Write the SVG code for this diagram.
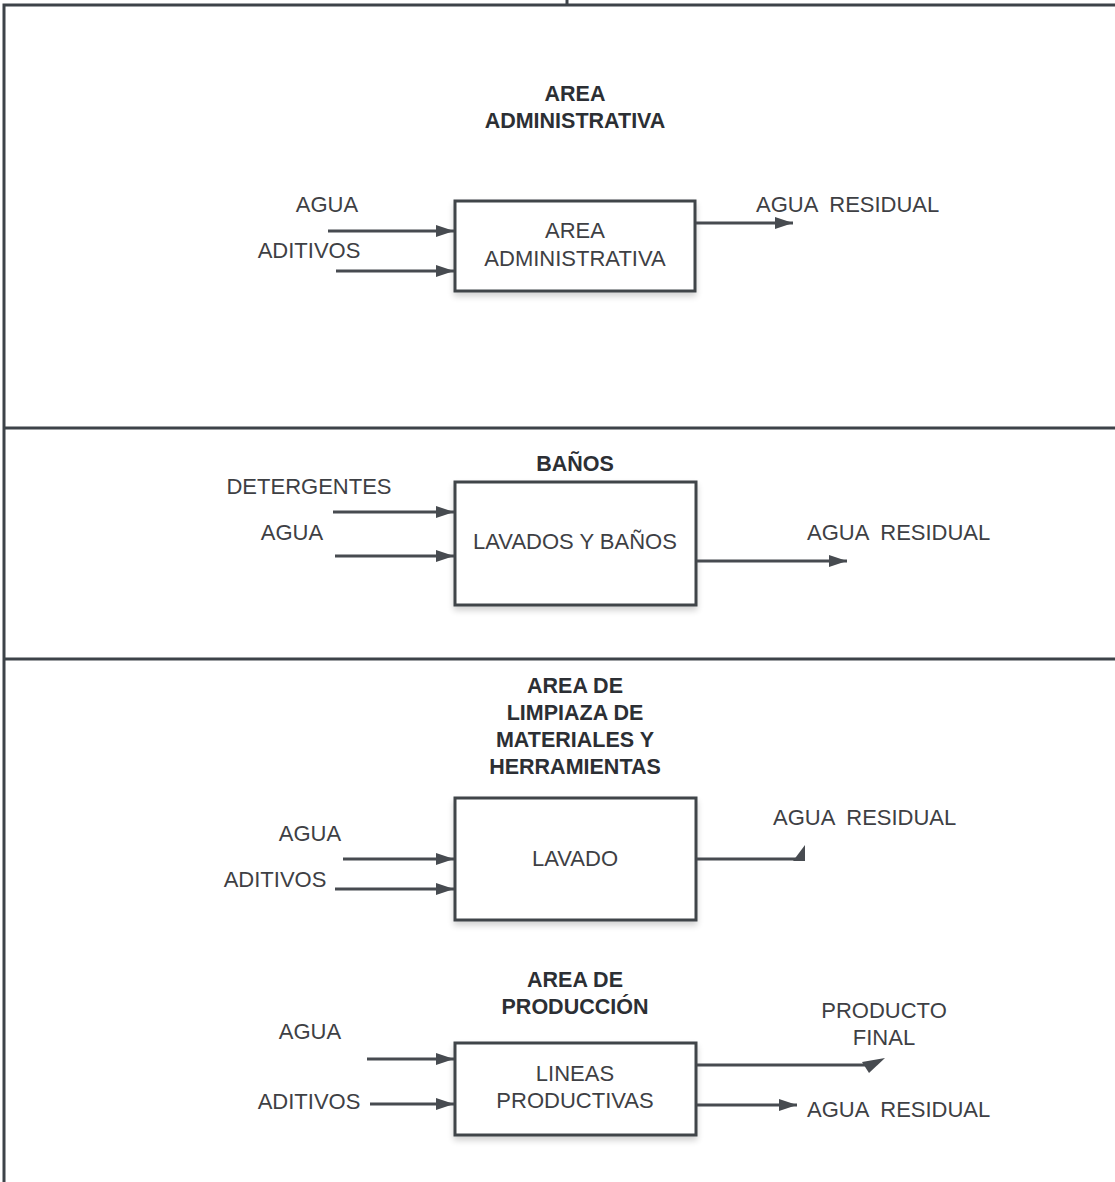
<svg xmlns="http://www.w3.org/2000/svg" width="1115" height="1182" viewBox="0 0 1115 1182">
  <defs>
    <marker id="arrow" viewBox="0 0 18 12" refX="18" refY="6" markerWidth="18" markerHeight="12" markerUnits="userSpaceOnUse" orient="auto">
      <path d="M0,0 L18,6 L0,12 Z" fill="#474b50"/>
    </marker>
    <filter id="shadow" x="-10%" y="-10%" width="125%" height="130%">
      <feGaussianBlur in="SourceAlpha" stdDeviation="3"/>
      <feOffset dx="0" dy="4" result="b"/>
      <feComponentTransfer><feFuncA type="linear" slope="0.18"/></feComponentTransfer>
      <feMerge><feMergeNode/><feMergeNode in="SourceGraphic"/></feMerge>
    </filter>
  </defs>
  <style>
    .frame { stroke: #3d4349; stroke-width: 3; fill: none; }
    .box { fill: #ffffff; stroke: #3f4449; stroke-width: 3; filter: url(#shadow); }
    .flow { stroke: #474b50; stroke-width: 3; fill: none; }
    .head { fill: #474b50; }
    .lbl { font-family: "Liberation Sans", Arial, sans-serif; font-size: 22px; fill: #3e4044; }
    .ttl { font-family: "Liberation Sans", Arial, sans-serif; font-size: 21.5px; font-weight: bold; fill: #2c2f34; text-anchor: middle; }
    .mid { text-anchor: middle; }
    .ws { word-spacing: 6px; }
  </style>
  <rect width="1115" height="1182" fill="#ffffff"/>

  <!-- sheet frame and section dividers -->
  <g id="frame">
    <path class="frame" d="M4,1182 V5 H1115"/>
    <line class="frame" x1="567" y1="0" x2="567" y2="5" stroke-width="2"/>
    <line class="frame" x1="4" y1="428" x2="1115" y2="428" stroke-width="4"/>
    <line class="frame" x1="4" y1="659" x2="1115" y2="659"/>
  </g>

  <!-- section titles -->
  <g id="titles">
    <text class="ttl" x="575" y="101">AREA</text>
    <text class="ttl" x="575" y="128">ADMINISTRATIVA</text>
    <text class="ttl" x="575" y="471">BAÑOS</text>
    <text class="ttl" x="575" y="693">AREA DE</text>
    <text class="ttl" x="575" y="720">LIMPIAZA DE</text>
    <text class="ttl" x="575" y="747">MATERIALES Y</text>
    <text class="ttl" x="575" y="774">HERRAMIENTAS</text>
    <text class="ttl" x="575" y="987">AREA DE</text>
    <text class="ttl" x="575" y="1014">PRODUCCIÓN</text>
  </g>

  <!-- process boxes -->
  <g id="node-administrativa">
    <rect class="box" x="455" y="201" width="240" height="90"/>
    <text class="lbl mid" x="575" y="238">AREA</text>
    <text class="lbl mid" x="575" y="266">ADMINISTRATIVA</text>
  </g>
  <g id="node-banos">
    <rect class="box" x="455" y="482" width="241" height="123"/>
    <text class="lbl mid" x="575" y="549">LAVADOS Y BAÑOS</text>
  </g>
  <g id="node-lavado">
    <rect class="box" x="455" y="798" width="241" height="122"/>
    <text class="lbl mid" x="575" y="866">LAVADO</text>
  </g>
  <g id="node-lineas">
    <rect class="box" x="455" y="1043" width="241" height="92"/>
    <text class="lbl mid" x="575" y="1081">LINEAS</text>
    <text class="lbl mid" x="575" y="1108">PRODUCTIVAS</text>
  </g>

  <!-- flows in and out of each box -->
  <g id="connectors">
    <line class="flow" x1="328" y1="231" x2="454" y2="231" marker-end="url(#arrow)"/>
    <line class="flow" x1="336" y1="271" x2="454" y2="271" marker-end="url(#arrow)"/>
    <line class="flow" x1="696" y1="223" x2="793" y2="223" marker-end="url(#arrow)"/>

    <line class="flow" x1="333" y1="512" x2="454" y2="512" marker-end="url(#arrow)"/>
    <line class="flow" x1="335" y1="556" x2="454" y2="556" marker-end="url(#arrow)"/>
    <line class="flow" x1="697" y1="561" x2="847" y2="561" marker-end="url(#arrow)"/>

    <line class="flow" x1="343" y1="859" x2="454" y2="859" marker-end="url(#arrow)"/>
    <line class="flow" x1="335" y1="889" x2="454" y2="889" marker-end="url(#arrow)"/>
    <line class="flow" x1="697" y1="859" x2="800" y2="859"/>
    <polygon class="head" points="793,861 805,845 805,861"/>

    <line class="flow" x1="367" y1="1059" x2="454" y2="1059" marker-end="url(#arrow)"/>
    <line class="flow" x1="370" y1="1104" x2="454" y2="1104" marker-end="url(#arrow)"/>
    <line class="flow" x1="697" y1="1065" x2="872" y2="1065"/>
    <polygon class="head" points="862,1062 885,1058 869,1073"/>
    <line class="flow" x1="697" y1="1105" x2="797" y2="1105" marker-end="url(#arrow)"/>
  </g>

  <!-- flow labels -->
  <g id="labels">
    <text class="lbl mid" x="327" y="212">AGUA</text>
    <text class="lbl mid" x="309" y="258">ADITIVOS</text>
    <text class="lbl ws" x="756" y="212">AGUA RESIDUAL</text>

    <text class="lbl mid" x="309" y="494">DETERGENTES</text>
    <text class="lbl mid" x="292" y="540">AGUA</text>
    <text class="lbl ws" x="807" y="540">AGUA RESIDUAL</text>

    <text class="lbl mid" x="310" y="841">AGUA</text>
    <text class="lbl mid" x="275" y="887">ADITIVOS</text>
    <text class="lbl ws" x="773" y="825">AGUA RESIDUAL</text>

    <text class="lbl mid" x="310" y="1039">AGUA</text>
    <text class="lbl mid" x="309" y="1109">ADITIVOS</text>
    <text class="lbl mid" x="884" y="1018">PRODUCTO</text>
    <text class="lbl mid" x="884" y="1045">FINAL</text>
    <text class="lbl ws" x="807" y="1117">AGUA RESIDUAL</text>
  </g>
</svg>
